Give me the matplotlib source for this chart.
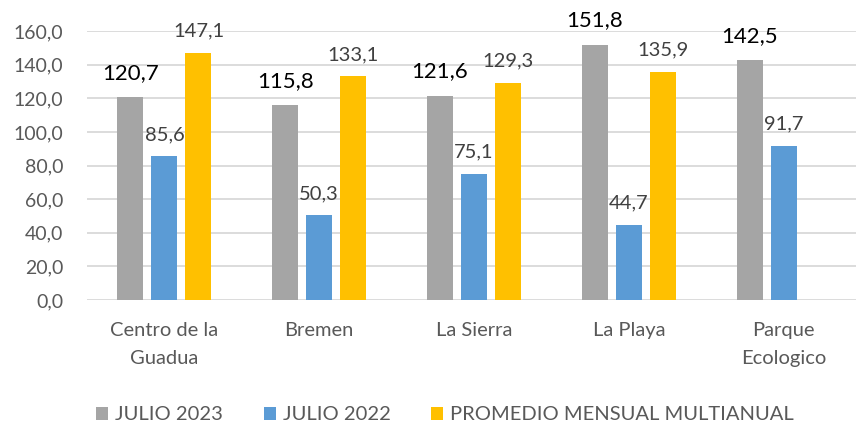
import matplotlib
matplotlib.use("Agg")
import matplotlib.pyplot as plt
import numpy as np

plt.rcParams["font.family"] = ["Lato", "DejaVu Sans"]

# datos
categorias = ["Centro de la\nGuadua", "Bremen", "La Sierra", "La Playa", "Parque\nEcologico"]
julio_2023 = [120.7, 115.8, 121.6, 151.8, 142.5]
julio_2022 = [85.6, 50.3, 75.1, 44.7, 91.7]
promedio = [147.1, 133.1, 129.3, 135.9, None]

series = [
    ("JULIO 2023", julio_2023, "#A5A5A5", "black", 16),
    ("JULIO 2022", julio_2022, "#5B9BD5", "#404040", 14.5),
    ("PROMEDIO MENSUAL MULTIANUAL", promedio, "#FFC000", "#404040", 14.5),
]

def fmt(v):
    return f"{v:.1f}".replace(".", ",")

fig = plt.figure(figsize=(8.56, 4.24), dpi=100)
ax = fig.add_axes([87 / 856, 124 / 424, 1 - 87 / 856, 269 / 424])

x = np.arange(len(categorias))
ancho = 0.168
paso = 0.22

for i, (nombre, vals, color, tcolor, tsize) in enumerate(series):
    pos = x + (i - 1) * paso
    alturas = [v if v is not None else 0 for v in vals]
    ax.bar(pos, alturas, width=ancho, color=color, label=nombre, zorder=3)
    for p, v in zip(pos, vals):
        if v is None:
            continue
        off = 17.5 if tsize > 15 else 15.5
        ax.annotate(fmt(v), (p, v), xytext=(0, off), textcoords="offset points",
                    ha="center", va="center", fontsize=tsize, color=tcolor)

ax.set_ylim(0, 160)
ax.set_yticks(np.arange(0, 161, 20))
ax.set_yticklabels([fmt(t) for t in np.arange(0, 161, 20)])
ax.set_xlim(-0.5, 4.5 - 5 / 154.75)
ax.set_xticks(x)
ax.set_xticklabels(categorias, linespacing=1.8)

ax.yaxis.grid(True, color="#D9D9D9", linewidth=1.3, zorder=0)
ax.set_axisbelow(True)
for s in ax.spines.values():
    s.set_visible(False)
ax.tick_params(axis="both", length=0, colors="#595959")
ax.tick_params(axis="y", pad=17, labelsize=14)
ax.tick_params(axis="x", pad=16, labelsize=14.5)

fig.legend(loc="center", bbox_to_anchor=(445 / 856, 1 - 415 / 424), ncol=3,
           frameon=False, fontsize=14.5, handlelength=0.6, handleheight=0.6,
           handletextpad=0.35, columnspacing=2.0, labelcolor="#595959",
           borderpad=0, borderaxespad=0)

fig.savefig("out.png", dpi=100)
